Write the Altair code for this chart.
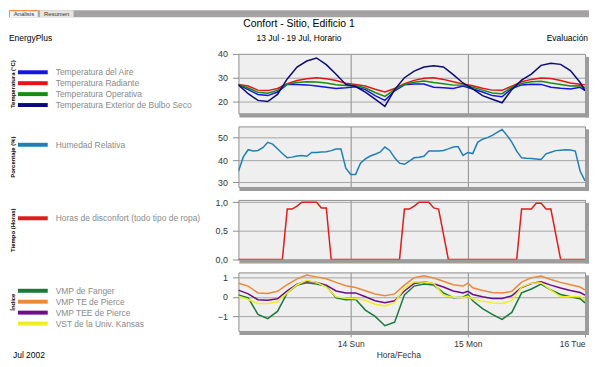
import altair as alt
import pandas as pd

FONT = "Liberation Sans"

# ---------------- data ----------------
TABS = ["Análisis", "Resumen"]
CHART_TITLE = "Confort - Sitio, Edificio 1"
SUBTITLE = "13 Jul - 19 Jul, Horario"
HEADER_LEFT = "EnergyPlus"
HEADER_RIGHT = "Evaluación"
FOOTER_LEFT = "Jul 2002"
X_TITLE = "Hora/Fecha"
DAY_TICKS = [24, 48, 72]
DAY_LABELS = ["14 Sun", "15 Mon", "16 Tue"]

# Panel 1: temperatures (hours since 13 Jul 00:00)
T_HOURS = [1, 3, 5, 7, 9, 11, 13, 15, 17, 19, 21, 23,
           25, 27, 29, 31, 33, 35, 37, 39, 41, 43, 45, 47,
           49, 51, 53, 55, 57, 59, 61, 63, 65, 67, 69, 71, 72]
T_NAMES = ["Temperatura del Aire", "Temperatura Radiante",
           "Temperatura Operativa", "Temperatura Exterior de Bulbo Seco"]
T_COLORS = ["#1414e6", "#e81414", "#168c16", "#0a0a78"]
T_AIR = [27, 25, 23, 22.5, 24, 27.2, 27.2, 27, 26.5, 26, 25.5, 25.8,
         26.2, 25, 22.5, 20.5, 24.5, 27, 27.4, 27.4, 26, 25.8, 25.5, 26.5,
         25.3, 24, 22.5, 22, 25.5, 27, 27.3, 27.2, 26, 25.6, 25.3, 26, 24.6]
T_RAD = [27.2, 26.5, 24.8, 24.6, 25.5, 27.5, 28.8, 29.6, 30, 29.6, 28.8, 27.7,
         27.2, 26.5, 25.2, 24, 25.5, 27.5, 28.9, 29.8, 30, 29.3, 28.3, 27.4,
         26.6, 25.6, 24.8, 24.7, 26.5, 28.3, 29.3, 29.9, 29.7, 28.8, 27.8, 27.3, 27]
T_OPER = [27.1, 25.7, 23.9, 23.5, 24.7, 27.3, 28, 28.3, 28.2, 27.8, 27.1, 26.7,
          26.7, 25.7, 23.8, 22.2, 25, 27.2, 28.1, 28.6, 28, 27.5, 26.9, 26.9,
          26, 24.8, 23.6, 23.3, 26, 27.6, 28.3, 28.5, 27.8, 27.2, 26.5, 26.6, 25.8]
T_OUT = [27, 23.3, 20.5, 20, 23, 29.5, 34.5, 37, 38.3, 35.5, 31.5, 27.2,
         26.3, 24, 21, 18, 25, 30, 32.8, 34.5, 35, 34.5, 31.3, 27.8,
         25.3, 22.5, 21, 19.5, 25, 29, 31.5, 35.2, 36.1, 35.6, 33, 28, 24.6]

# Panel 2: relative humidity, hourly 1..72
H_NAMES = ["Humedad Relativa"]
H_COLORS = ["#1f7fb6"]
H_HOURS = list(range(1, 73))
H_VALUES = [35, 41.4, 44.6, 44, 44.3, 45.5, 47.9, 47.1, 45, 42.9, 41, 41.3,
            41.8, 42, 41.7, 43.4, 43.4, 43.6, 43.7, 44.2, 44.9, 44.9, 36.4, 33.6,
            33.6, 38.6, 40.5, 41.8, 42.6, 43.5, 45.8, 44.3, 41, 38.6, 38.1, 39.5,
            41, 41.3, 41.7, 44, 44, 44, 44.3, 45, 45.8, 46, 42.1, 43.4,
            42.9, 47.9, 49.3, 50, 51, 52.3, 53.6, 51, 48, 44, 41, 40.8,
            40.7, 40.5, 40.3, 42.8, 43.5, 44.2, 44.4, 44.6, 44.5, 44, 35, 30.7]

# Panel 3: discomfort hours
D_NAMES = ["Horas de disconfort (todo tipo de ropa)"]
D_COLORS = ["#e01c1c"]
D_HOURS = [1, 10, 11, 12, 13, 14, 17, 18, 19, 20, 34, 35, 36, 37, 38, 40, 41, 42, 44,
           58, 59, 61, 62, 63, 64, 65, 67, 72]
D_VALUES = [0, 0, 0.88, 0.88, 0.93, 1.0, 1.0, 0.9, 0.9, 0, 0, 0.88, 0.88, 0.93, 1.0, 1.0, 0.9, 0.88, 0,
            0, 0.88, 0.88, 0.98, 0.98, 0.88, 0.88, 0, 0]

# Panel 4: comfort indices
I_HOURS = [1, 3, 5, 7, 9, 11, 13, 15, 17, 19, 21, 23,
           25, 27, 29, 31, 33, 35, 37, 39, 41, 43, 45, 47, 48,
           49, 51, 53, 55, 57, 59, 61, 63, 65, 67, 69, 71, 72]
I_NAMES = ["VMP de Fanger", "VMP TE de Pierce", "VMP TEE de Pierce", "VST de la Univ. Kansas"]
I_COLORS = ["#17793a", "#ea8a3c", "#6e0c8c", "#eeee22"]
I_FANGER = [0.09, -0.05, -0.9, -1.12, -0.75, 0.2, 0.6, 0.72, 0.65, 0.55, -0.05, -0.15,
            -0.12, -0.68, -1.0, -1.48, -1.3, 0.1, 0.55, 0.65, 0.6, 0.2, -0.05, -0.02, 0.12,
            -0.2, -0.6, -0.9, -1.16, -0.8, 0.2, 0.4, 0.65, 0.35, 0.12, 0.0, -0.1, -0.31]
I_TE = [0.69, 0.55, 0.2, 0.17, 0.28, 0.62, 0.92, 1.12, 1.02, 0.92, 0.74, 0.57,
        0.48, 0.31, 0.14, 0.05, 0.15, 0.6, 0.98, 1.08, 0.96, 0.8, 0.62, 0.55, 0.7,
        0.46, 0.32, 0.22, 0.2, 0.28, 0.75, 0.98, 1.06, 0.89, 0.74, 0.62, 0.5, 0.34]
I_TEE = [0.34, 0.15, -0.15, -0.17, -0.1, 0.3, 0.65, 0.8, 0.74, 0.6, 0.3, 0.2,
         0.2, 0.0, -0.2, -0.3, -0.2, 0.3, 0.68, 0.77, 0.67, 0.5, 0.3, 0.2, 0.28,
         0.12, 0.0, -0.09, -0.09, 0.05, 0.48, 0.68, 0.77, 0.6, 0.45, 0.32, 0.22, 0.09]
I_VST = [0.03, -0.14, -0.34, -0.34, -0.25, 0.2, 0.62, 0.85, 0.74, 0.5, 0.0, -0.08,
         -0.1, -0.17, -0.38, -0.47, -0.3, 0.45, 0.77, 0.76, 0.68, 0.08, -0.02, -0.03, 0.03,
         -0.12, -0.22, -0.31, -0.34, -0.2, 0.5, 0.7, 0.72, 0.34, 0.0, 0.0, 0.02, -0.17]

# ---------------- helpers ----------------
W = 349
LABEL_C = "#333333"
LEG_TOP = 18.5
LEG_STEP = 11


def long_df(hours, names, series):
    rows = []
    for n, vals in zip(names, series):
        for h, v in zip(hours, vals):
            rows.append({"hour": h, "value": v, "series": n})
    return pd.DataFrame(rows)


def x_axis(bottom=False):
    if bottom:
        expr = " : ".join(
            f"datum.value == {t} ? '{l}'" for t, l in zip(DAY_TICKS[:-1], DAY_LABELS[:-1])
        ) + f" : '{DAY_LABELS[-1]}'"
        return alt.Axis(values=DAY_TICKS, labelExpr=expr, grid=True, gridColor="#8c8c8c",
                        domain=False, ticks=True, tickSize=6, tickColor="#8c8c8c",
                        labelPadding=3, labelFontSize=8.5, labelColor=LABEL_C,
                        labelFlush=True,
                        title=X_TITLE, titleFontSize=8.5, titleFontWeight="normal",
                        titleColor=LABEL_C, titleX=161, titlePadding=2)
    return alt.Axis(values=DAY_TICKS[:-1], labels=False, ticks=False, domain=False,
                    grid=True, gridColor="#8c8c8c", title=None)


def rect_layer(x, x2, y, y2, fill):
    return alt.Chart(pd.DataFrame({"k": [0]})).mark_rect(color=fill).encode(
        x=alt.value(x), x2=alt.value(x2), y=alt.value(y), y2=alt.value(y2))


def text_layer(label, x, y, align, size=8.5, color="black"):
    return alt.Chart(pd.DataFrame({"t": [label]})).mark_text(
        align=align, baseline="middle", fontSize=size, color=color, font=FONT
    ).encode(text="t:N", x=alt.value(x), y=alt.value(y))


def panel(df, names, colors, ydomain, yvalues, ytitle, height, bottom=False,
          label_expr=None, extras=()):
    yaxis_kwargs = dict(values=yvalues, title=ytitle, titleX=-227.5, titleBaseline="middle",
                        titleFontSize=6, titleFontWeight="bold", titleColor="black",
                        labelFontSize=9, labelColor=LABEL_C, tickSize=6, tickColor="#8c8c8c",
                        domain=False, grid=True, gridColor="#a4a4a4", labelPadding=5)
    if label_expr:
        yaxis_kwargs["labelExpr"] = label_expr
    color = alt.Color("series:N", scale=alt.Scale(domain=names, range=colors), legend=None)
    lines = alt.Chart(df).mark_line(strokeWidth=1.5, clip=True).encode(
        x=alt.X("hour:Q", scale=alt.Scale(domain=[1, 72], nice=False, zero=False),
                axis=x_axis(bottom)),
        y=alt.Y("value:Q", scale=alt.Scale(domain=ydomain, nice=False, zero=False),
                axis=alt.Axis(**yaxis_kwargs)),
        color=color,
    )
    # legend (swatch + label per series), rows laid out by a point scale
    leg_df = pd.DataFrame({"series": names})
    leg_y = alt.Y("series:N", axis=None,
                  scale=alt.Scale(type="point", domain=names, padding=0,
                                  range=[LEG_TOP, LEG_TOP + LEG_STEP * (len(names) - 1)]))
    leg_sw = alt.Chart(leg_df).mark_rule(strokeWidth=4).encode(
        y=leg_y, x=alt.value(-222), x2=alt.value(-192), color=color)
    leg_tx = alt.Chart(leg_df).mark_text(
        align="left", baseline="middle", fontSize=8.5, color="#8a8a8a", font=FONT
    ).encode(y=leg_y, x=alt.value(-184), text="series:N")

    deco = pd.DataFrame({"k": [0]})
    shadow_b = alt.Chart(deco).mark_rule(color="#9c9c9c", strokeWidth=4).encode(
        x=alt.value(1), x2=alt.value(W + 4), y=alt.value(height + 2))
    shadow_r = alt.Chart(deco).mark_rule(color="#9c9c9c", strokeWidth=4).encode(
        x=alt.value(W + 2), y=alt.value(3), y2=alt.value(height + 4))
    return alt.layer(shadow_b, shadow_r, lines, leg_sw, leg_tx, *extras).resolve_scale(
        y="independent").properties(width=W, height=height)


header = (
    rect_layer(-231, W + 4, -44, -37, "#a4a2a2"),
    rect_layer(-230, -202, -44, -37, "#f2f2f2"),
    rect_layer(-230, -202, -44, -43, "#e8782a"),
    rect_layer(-200, -166, -44, -37, "#e4e4e4"),
    text_layer(TABS[0], -216, -40.5, "center", size=6, color="#333333"),
    text_layer(TABS[1], -183, -40.5, "center", size=6, color="#333333"),
    text_layer(CHART_TITLE, 61, -30, "center", size=10.5),
    text_layer(HEADER_LEFT, -231, -16, "left"),
    text_layer(SUBTITLE, 61, -16, "center"),
    text_layer(HEADER_RIGHT, 352, -16, "right"),
)

p1 = panel(long_df(T_HOURS, T_NAMES, [T_AIR, T_RAD, T_OPER, T_OUT]), T_NAMES, T_COLORS,
           [15, 40], [20, 30, 40], "Temperatura (°C)", 60, extras=header)
p2 = panel(long_df(H_HOURS, H_NAMES, [H_VALUES]), H_NAMES, H_COLORS,
           [28, 55], [30, 40, 50], "Porcentaje (%)", 61)
p3 = panel(long_df(D_HOURS, D_NAMES, [D_VALUES]), D_NAMES, D_COLORS,
           [0, 1.04], [0, 0.5, 1.0], "Tiempo (Horas)", 60,
           label_expr="replace(format(datum.value, '.1f'), '.', ',')")
p4 = panel(long_df(I_HOURS, I_NAMES, [I_FANGER, I_TE, I_TEE, I_VST]), I_NAMES, I_COLORS,
           [-1.75, 1.25], [-1, 0, 1], "Índice", 59, bottom=True,
           extras=(text_layer(FOOTER_LEFT, -227, 83, "left"),))

chart = alt.vconcat(p1, p2, p3, p4, spacing=13, bounds="flush").resolve_scale(
    color="independent"
).properties(
    padding=0,
).configure(font=FONT, background="white").configure_view(
    fill="#efefef", stroke="#8c8c8c"
)

chart.save("out.html", embed_options={"renderer": "svg", "actions": False})
